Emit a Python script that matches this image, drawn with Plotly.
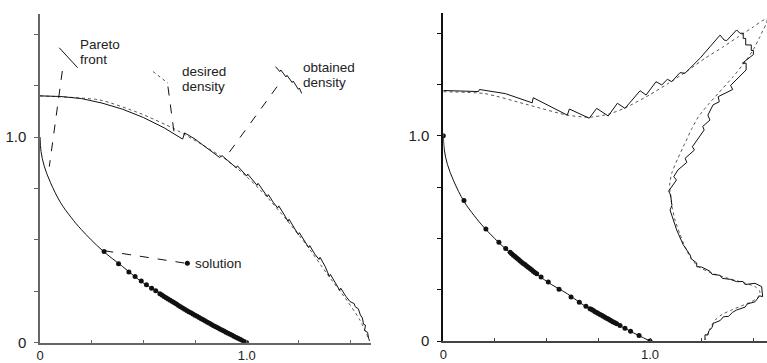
import plotly.graph_objects as go

# ---------------- data ----------------
# Pareto front (both panels)
front_x = [0, 0.005, 0.02, 0.05, 0.1, 0.15, 0.2, 0.3, 0.4, 0.5, 0.6, 0.7, 0.8, 0.9, 1.0]
front_y = [1.0, 0.93, 0.86, 0.78, 0.68, 0.61, 0.55, 0.45, 0.37, 0.29, 0.23, 0.16, 0.105, 0.05, 0.0]

# left panel: solutions
solL_x = [0.31, 0.38, 0.43, 0.46, 0.49, 0.515, 0.54, 0.56, 0.58, 0.59,
          0.60, 0.61, 0.62, 0.63, 0.64, 0.65, 0.66, 0.67, 0.68, 0.69, 0.70, 0.71, 0.72, 0.73,
          0.74, 0.75, 0.76, 0.77, 0.78, 0.79, 0.80, 0.81, 0.82, 0.83, 0.84, 0.85, 0.86, 0.87,
          0.88, 0.89, 0.90, 0.91, 0.92, 0.93, 0.94, 0.95, 0.96, 0.97, 0.98, 0.99, 1.0]
solL_y = [0.443, 0.384, 0.344, 0.322, 0.300, 0.282, 0.265, 0.252, 0.238, 0.232,
          0.225, 0.219, 0.213, 0.206, 0.200, 0.194, 0.188, 0.181, 0.175, 0.169, 0.163, 0.157,
          0.151, 0.146, 0.140, 0.134, 0.128, 0.122, 0.117, 0.111, 0.106, 0.100, 0.094, 0.089,
          0.083, 0.078, 0.073, 0.067, 0.062, 0.057, 0.051, 0.046, 0.041, 0.036, 0.030, 0.025,
          0.020, 0.015, 0.010, 0.005, 0.0]

# left panel: desired density (dotted)
desL_x = [0, 0.29, 0.484, 0.645, 0.774, 0.903, 1.0, 1.097, 1.194, 1.29, 1.387, 1.484, 1.548, 1.594]
desL_y = [1.2, 1.18, 1.115, 1.042, 0.969, 0.888, 0.807, 0.71, 0.596, 0.475, 0.337, 0.207, 0.11, 0.01]

# left panel: obtained density (solid)
obtL_x = [0, 0.1, 0.2, 0.3, 0.4, 0.5, 0.6, 0.69, 0.70, 0.75, 0.80, 0.87, 0.88, 0.92, 0.95, 0.955,
          0.98, 1.0, 1.005, 1.03, 1.05, 1.055, 1.08, 1.1, 1.105, 1.13, 1.15, 1.155, 1.18, 1.2, 1.205,
          1.23, 1.25, 1.255, 1.28, 1.3, 1.305, 1.33, 1.35, 1.355, 1.38, 1.4, 1.405, 1.43, 1.45,
          1.455, 1.48, 1.5, 1.52, 1.525, 1.54, 1.55, 1.56, 1.565, 1.575, 1.57, 1.585, 1.59, 1.595]
obtL_y = [1.2, 1.197, 1.187, 1.165, 1.135, 1.095, 1.045, 0.99, 1.02, 0.99, 0.952, 0.9, 0.91,
          0.875, 0.85, 0.86, 0.835, 0.81, 0.82, 0.79, 0.765, 0.775, 0.74, 0.71, 0.72, 0.68, 0.655,
          0.665, 0.625, 0.59, 0.60, 0.56, 0.525, 0.535, 0.495, 0.462, 0.472, 0.43, 0.405, 0.415,
          0.37, 0.322, 0.332, 0.29, 0.255, 0.265, 0.225, 0.2, 0.19, 0.175, 0.165, 0.135, 0.12, 0.09,
          0.085, 0.06, 0.05, 0.02, 0.01]

# right panel: solutions
solR_x = [0, 0.1, 0.206, 0.269, 0.302, 0.323, 0.331, 0.339, 0.347, 0.355, 0.363, 0.371, 0.379,
          0.387, 0.395, 0.403, 0.411, 0.419, 0.427, 0.435, 0.443, 0.452, 0.473, 0.508, 0.56,
          0.618, 0.658, 0.69, 0.71, 0.718, 0.726, 0.734, 0.742, 0.75, 0.758, 0.766, 0.774, 0.782,
          0.79, 0.798, 0.806, 0.814, 0.822, 0.83, 0.839, 0.855, 0.879, 0.906, 0.947, 1.0]
solR_y = [1.0, 0.684, 0.546, 0.481, 0.450, 0.432, 0.425, 0.418, 0.411, 0.404, 0.398, 0.391, 0.384,
          0.378, 0.372, 0.365, 0.359, 0.353, 0.347, 0.340, 0.334, 0.328, 0.312, 0.287, 0.252,
          0.214, 0.189, 0.169, 0.157, 0.153, 0.148, 0.143, 0.139, 0.134, 0.129, 0.125, 0.120,
          0.116, 0.111, 0.107, 0.102, 0.098, 0.093, 0.089, 0.084, 0.075, 0.062, 0.048, 0.027, 0.0]

# right panel: desired density (dotted)
desR_x = [0, 0.2, 0.411, 0.6, 0.71, 0.8, 0.879, 1.0, 1.089, 1.18, 1.266, 1.35, 1.427, 1.5, 1.54,
          1.562, 1.566, 1.56, 1.545, 1.532, 1.5, 1.46, 1.4, 1.33, 1.28, 1.234, 1.2, 1.169, 1.135,
          1.105, 1.095, 1.097, 1.108, 1.121, 1.145, 1.169, 1.2, 1.234, 1.3, 1.379, 1.45, 1.508,
          1.53, 1.532, 1.52, 1.492, 1.44, 1.395, 1.35, 1.315, 1.29, 1.266]
desR_y = [1.214, 1.205, 1.15, 1.10, 1.09, 1.105, 1.135, 1.2, 1.255, 1.315, 1.377, 1.43, 1.482,
          1.53, 1.558, 1.568, 1.56, 1.54, 1.51, 1.482, 1.42, 1.36, 1.285, 1.206, 1.15, 1.092, 1.03,
          0.963, 0.89, 0.817, 0.76, 0.719, 0.65, 0.589, 0.52, 0.459, 0.40, 0.362, 0.33, 0.305,
          0.285, 0.265, 0.245, 0.232, 0.21, 0.192, 0.17, 0.151, 0.13, 0.102, 0.06, 0.005]

# right panel: obtained density (solid, step-like)
obtR_x = [0, 0.17, 0.175, 0.3, 0.43, 0.435, 0.6, 0.61, 0.706, 0.742, 0.798, 0.842, 0.879, 0.952,
          0.981, 1.029, 1.057, 1.084, 1.105, 1.145, 1.169, 1.242, 1.339, 1.358, 1.371, 1.419, 1.435,
          1.451, 1.451, 1.463, 1.463, 1.49, 1.49, 1.50, 1.50, 1.447, 1.465, 1.465, 1.39, 1.40,
          1.33, 1.335, 1.305, 1.28, 1.29, 1.255, 1.262, 1.205, 1.215, 1.17, 1.178, 1.135, 1.115,
          1.128, 1.09, 1.10, 1.106, 1.097, 1.129, 1.16, 1.194, 1.2, 1.226, 1.226, 1.25, 1.274, 1.29,
          1.3, 1.339, 1.35, 1.39, 1.419, 1.45, 1.46, 1.508, 1.54, 1.545, 1.53, 1.508, 1.47, 1.46,
          1.419, 1.40, 1.38, 1.355, 1.34, 1.306, 1.30, 1.285, 1.28, 1.266, 1.266]
obtR_y = [1.22, 1.215, 1.225, 1.205, 1.16, 1.185, 1.10, 1.13, 1.085, 1.133, 1.096, 1.158, 1.133,
          1.219, 1.198, 1.263, 1.247, 1.275, 1.263, 1.307, 1.304, 1.377, 1.490, 1.466, 1.463, 1.515,
          1.499, 1.499, 1.474, 1.474, 1.442, 1.442, 1.415, 1.415, 1.395, 1.353, 1.353, 1.32, 1.245,
          1.225, 1.19, 1.165, 1.15, 1.10, 1.076, 1.045, 1.028, 0.946, 0.93, 0.89, 0.87, 0.833,
          0.80, 0.784, 0.73, 0.711, 0.66, 0.638, 0.541, 0.47, 0.419, 0.40, 0.38, 0.362, 0.36, 0.346,
          0.34, 0.325, 0.32, 0.305, 0.30, 0.289, 0.29, 0.275, 0.281, 0.265, 0.216, 0.22, 0.191,
          0.18, 0.165, 0.151, 0.14, 0.12, 0.118, 0.10, 0.086, 0.065, 0.05, 0.03, 0.03, 0.005]

tick_vals = [0, 0.25, 0.5, 0.75, 1.0, 1.25, 1.5]
tick_text = ["0", "", "", "", "1.0", "", ""]

# ---------------- figure ----------------
W, H = 767, 363
BLACK = "#111111"
DOTC = "#555555"
FONT = "Liberation Sans, Arial, sans-serif"

fig = go.Figure()

def panel(xa, ya, fx, fy, sx, sy, dx, dy, ox, oy):
    fig.add_trace(go.Scatter(x=dx, y=dy, mode="lines", xaxis=xa, yaxis=ya,
                             line=dict(color=DOTC, width=1, dash="dot", shape="spline", smoothing=0.6),
                             hoverinfo="skip"))
    fig.add_trace(go.Scatter(x=ox, y=oy, mode="lines", xaxis=xa, yaxis=ya,
                             line=dict(color=BLACK, width=1), hoverinfo="skip"))
    fig.add_trace(go.Scatter(x=fx, y=fy, mode="lines", xaxis=xa, yaxis=ya,
                             line=dict(color=BLACK, width=1, shape="spline", smoothing=1.0),
                             hoverinfo="skip"))
    fig.add_trace(go.Scatter(x=sx, y=sy, mode="markers", xaxis=xa, yaxis=ya,
                             marker=dict(color=BLACK, size=5), hoverinfo="skip"))

panel("x", "y", front_x, front_y, solL_x, solL_y, desL_x, desL_y, obtL_x, obtL_y)
panel("x2", "y2", front_x, front_y, solR_x, solR_y, desR_x, desR_y, obtR_x, obtR_y)

# "solution" legend dot
fig.add_trace(go.Scatter(x=[0.713], y=[0.386], mode="markers", xaxis="x", yaxis="y",
                         marker=dict(color=BLACK, size=5), hoverinfo="skip"))

axcommon = dict(tickvals=tick_vals, ticktext=tick_text, showgrid=False, zeroline=False,
                showline=True, automargin=False)
yfont = dict(family=FONT, size=15, color="#222222")
xfont = dict(family=FONT, size=13, color="#222222")

fig.update_layout(
    template="none",
    width=W, height=H, margin=dict(l=0, r=0, t=0, b=0, pad=0),
    paper_bgcolor="white", plot_bgcolor="white", showlegend=False,
    xaxis=dict(domain=[40 / W, 370.7 / W], range=[0, 1.6], anchor="y",
               ticks="inside", ticklen=3, linecolor="#666666", linewidth=1.5, tickcolor="#666666",
               ticklabelstandoff=0, tickfont=xfont, **axcommon),
    yaxis=dict(domain=[20.3 / H, 349.4 / H], range=[0, 1.6], anchor="x",
               ticks="outside", ticklen=4, linecolor="#666666", linewidth=1.5, tickcolor="#666666",
               ticklabelstandoff=5, tickfont=yfont, **axcommon),
    xaxis2=dict(domain=[443.3 / W, 1.0], range=[0, 1.566], anchor="y2",
                ticks="inside", ticklen=3, linecolor="#444444", linewidth=1.5, tickcolor="#444444",
                ticklabelstandoff=1, tickfont=xfont, **axcommon),
    yaxis2=dict(domain=[22 / H, 350.5 / H], range=[0, 1.6], anchor="x2",
                ticks="outside", ticklen=4, linecolor="#111111", linewidth=2, tickcolor="#111111",
                ticklabelstandoff=5, tickfont=yfont, **axcommon),
)

# annotation marks (legend-like samples and dashed leaders), left panel data coords
dash_line = dict(color=BLACK, width=1, dash="dash")
shapes = [
    dict(type="line", x0=0.093, y0=1.434, x1=0.182, y1=1.337, line=dict(color=BLACK, width=1)),
    dict(type="line", x0=0.108, y0=1.321, x1=0.045, y1=0.856, line=dash_line),
    dict(type="line", x0=0.547, y0=1.318, x1=0.619, y1=1.262, line=dict(color=DOTC, width=1, dash="dot")),
    dict(type="line", x0=0.619, y0=1.245, x1=0.648, y1=1.026, line=dash_line),
    dict(type="path",
         path="M 1.14 1.342 L 1.16 1.318 L 1.165 1.326 L 1.19 1.292 L 1.195 1.30 L 1.22 1.265 "
              "L 1.225 1.272 L 1.25 1.232 L 1.255 1.238 L 1.266 1.212",
         line=dict(color=BLACK, width=1)),
    dict(type="line", x0=1.147, y0=1.245, x1=0.90, y1=0.904, line=dash_line),
    dict(type="line", x0=0.311, y0=0.447, x1=0.70, y1=0.387, line=dash_line),
]
for s in shapes:
    s.update(xref="x", yref="y", layer="above")
fig.update_layout(shapes=shapes)

tfont = dict(family=FONT, size=13.5, color="#222222")
labels = [
    ("Pareto", 0.19, 1.45), ("front", 0.19, 1.375),
    ("desired", 0.68, 1.32), ("density", 0.68, 1.245),
    ("obtained", 1.27, 1.338), ("density", 1.27, 1.263),
    ("solution", 0.745, 0.387),
]
for t, x, y in labels:
    fig.add_annotation(text=t, x=x, y=y, xref="x", yref="y", xanchor="left", yanchor="middle",
                       showarrow=False, font=tfont, borderpad=0)

fig.write_html("out.html")
